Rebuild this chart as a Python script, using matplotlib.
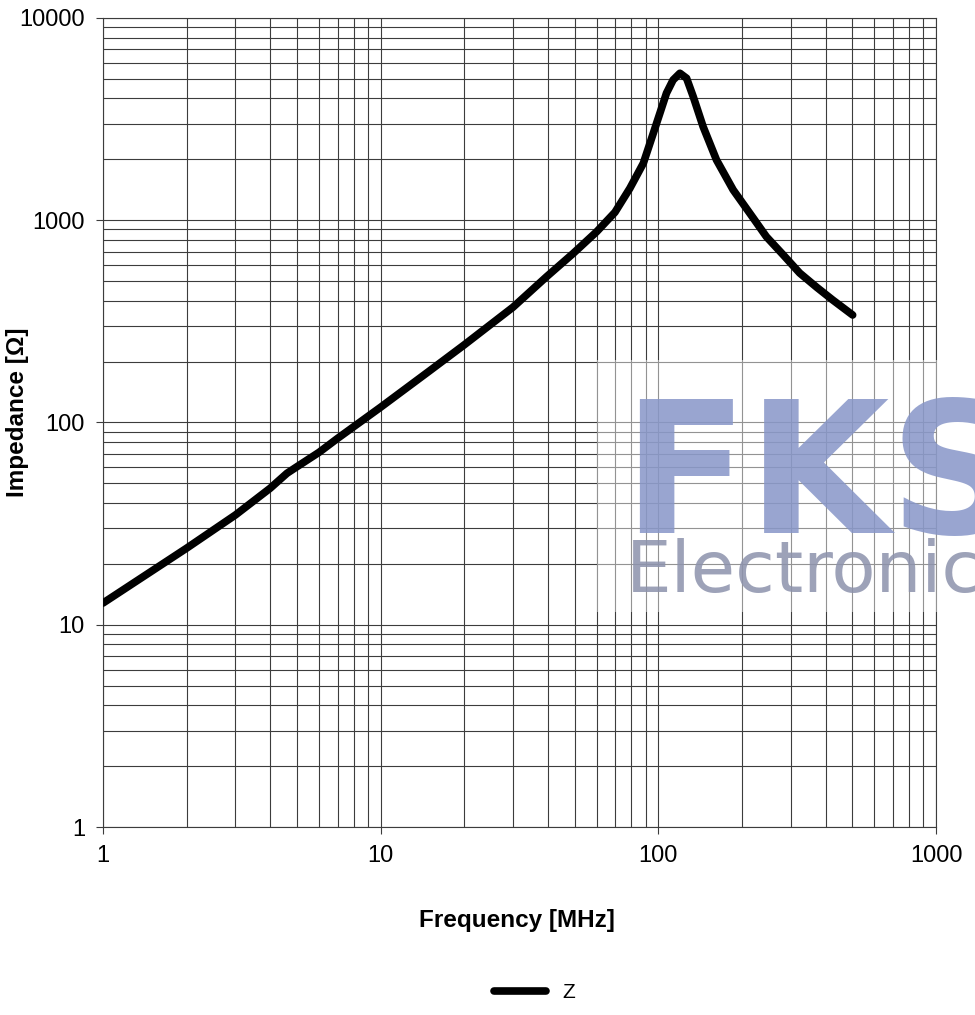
import matplotlib
matplotlib.use("Agg")
import matplotlib.pyplot as plt
from matplotlib.ticker import LogLocator, FixedLocator, NullFormatter
from matplotlib.patches import Rectangle

# impedance curve
freq_mhz = [1, 2, 3, 4, 4.6, 5, 6, 7, 10, 15, 20, 30, 39.6, 49.4, 60, 69.8, 79,
            88.3, 95.9, 101.3, 107, 113, 119.6, 126.4, 133.6, 145, 162, 186, 220,
            245, 282, 323, 372, 425, 501]
z_ohm = [12.8, 23.9, 34.9, 47.3, 56.1, 60.5, 71.2, 83.5, 119, 180, 242, 372, 526,
         686, 878, 1095, 1439, 1912, 2690, 3380, 4250, 4935, 5330, 5035, 4080,
         2900, 1986, 1413, 1022, 829, 673, 548, 466, 403, 340]

x_ticks = [1, 10, 100, 1000]
x_tick_labels = ["1", "10", "100", "1000"]
y_ticks = [1, 10, 100, 1000, 10000]
y_tick_labels = ["1", "10", "100", "1000", "10000"]

plt.rcParams['font.family'] = ['Liberation Sans', 'DejaVu Sans']

fig = plt.figure(figsize=(9.75, 10.15), dpi=100)
ax = fig.add_axes([0.1056, 0.1852, 0.8544, 0.7971])

ax.set_xscale('log')
ax.set_yscale('log')
ax.set_xlim(1, 1000)
ax.set_ylim(1, 10000)

grid_col = '#3c3c3c'
ax.xaxis.set_major_locator(FixedLocator(x_ticks))
ax.yaxis.set_major_locator(FixedLocator(y_ticks))
ax.xaxis.set_minor_locator(LogLocator(base=10, subs=range(2, 10)))
ax.yaxis.set_minor_locator(LogLocator(base=10, subs=range(2, 10)))
ax.xaxis.set_minor_formatter(NullFormatter())
ax.yaxis.set_minor_formatter(NullFormatter())
ax.set_xticklabels(x_tick_labels)
ax.set_yticklabels(y_tick_labels)
ax.grid(True, which='both', color=grid_col, linewidth=0.8)
ax.tick_params(which='major', length=5, width=0.8, color=grid_col, labelsize=17, pad=8)
ax.tick_params(which='minor', length=0)
for s in ax.spines.values():
    s.set_color(grid_col)
    s.set_linewidth(0.8)

line, = ax.plot(freq_mhz, z_ohm, color='black', linewidth=5.5,
                solid_joinstyle='round', solid_capstyle='round', zorder=5, label='Z')

fig.text(517 / 975, 1 - 920 / 1015, 'Frequency [MHz]', fontsize=17.5, fontweight='bold',
         ha='center', va='center')
fig.text(18 / 975, 1 - 412 / 1015, 'Impedance [Ω]', fontsize=17.5, fontweight='bold',
         rotation=90, ha='center', va='center')

# watermark (semi-transparent white panel plus faded logo text)
fig.patches.append(Rectangle((597 / 975, 1 - 612 / 1015), 1, 252 / 1015,
                             transform=fig.transFigure, facecolor='white',
                             alpha=0.45, edgecolor='none', zorder=3))
fig.text(622 / 975, 1 - 533 / 1015, 'FKS', fontsize=132, color='#8796c8', alpha=0.85,
         family='DejaVu Sans', fontweight='bold', va='baseline', ha='left', zorder=4)
fig.text(626 / 975, 1 - 592 / 1015, 'Electronics', fontsize=52, color='#8c92ac', alpha=0.85,
         family='DejaVu Sans', va='baseline', ha='left', zorder=4)

fig.legend(handles=[line], loc='center', bbox_to_anchor=(0.548, 0.022),
           frameon=False, fontsize=15, handlelength=2.5, handletextpad=0.8)

fig.savefig('out.png', dpi=100, facecolor='white')
